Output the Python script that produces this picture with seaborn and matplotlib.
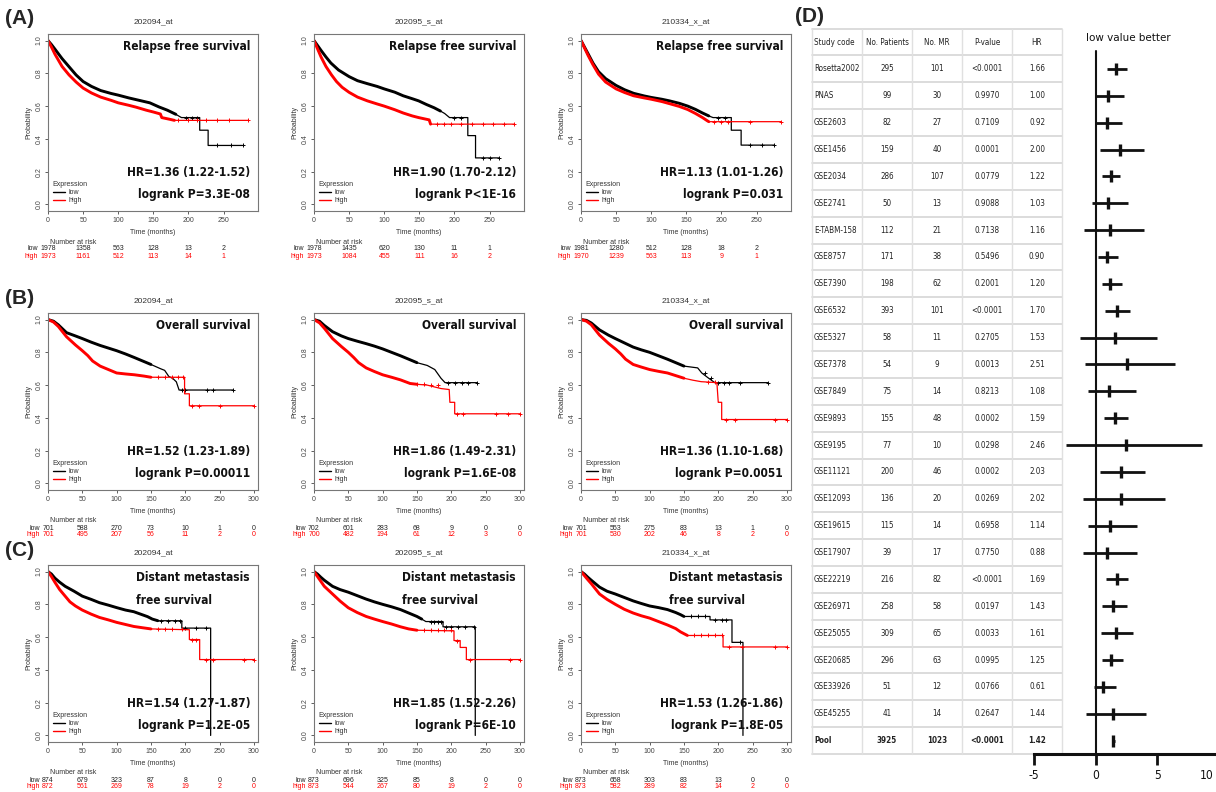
import matplotlib
matplotlib.use("Agg")
import numpy as np
import pandas as pd
import matplotlib.pyplot as plt
import seaborn as sns
from matplotlib import font_manager, transforms
from matplotlib.font_manager import FontProperties
from matplotlib.lines import Line2D

# ---------------- DATA ----------------
probe_titles = ["202094_at", "202095_s_at", "210334_x_at"]
endpoints = ["Relapse free survival", "Overall survival", "Distant metastasis\nfree survival"]

# Row A : relapse free survival  (time, survival)
rfs_202094_low = [(0,1.0),(5,0.975),(10,0.947),(20,0.89),(30,0.84),(40,0.79),(50,0.75),(62,0.72),(75,0.695),(90,0.677),(100,0.667),(115,0.65),(130,0.635),(145,0.62),(158,0.595),(170,0.575),(182,0.55),(190,0.53),(216,0.53),(216,0.453),(228,0.453),(228,0.36),(277,0.36)]
rfs_202094_high = [(0,1.0),(5,0.96),(10,0.916),(20,0.842),(30,0.79),(40,0.747),(50,0.71),(62,0.68),(75,0.655),(90,0.635),(100,0.62),(115,0.605),(125,0.594),(140,0.575),(150,0.564),(160,0.552),(162,0.53),(175,0.518),(180,0.513),(285,0.513)]
rfs_202094_low_cens = [196, 205, 212, 240, 260, 277]
rfs_202094_high_cens = [185, 200, 212, 225, 240, 258, 285]

rfs_202095_low = [(0,1.0),(5,0.97),(10,0.94),(17,0.9),(24,0.863),(35,0.82),(50,0.78),(62,0.755),(76,0.737),(90,0.72),(100,0.705),(115,0.685),(127,0.663),(140,0.645),(149,0.632),(160,0.61),(171,0.59),(180,0.57),(186,0.555),(193,0.53),(219,0.53),(219,0.42),(230,0.42),(230,0.284),(263,0.284)]
rfs_202095_high = [(0,1.0),(5,0.95),(10,0.9),(17,0.842),(25,0.79),(32,0.75),(40,0.715),(50,0.684),(62,0.655),(76,0.632),(90,0.613),(100,0.6),(115,0.578),(127,0.558),(140,0.54),(149,0.53),(164,0.516),(166,0.49),(285,0.49)]
rfs_202095_low_cens = [200, 210, 240, 250, 263]
rfs_202095_high_cens = [175, 185, 195, 210, 225, 240, 255, 270, 285]

rfs_210334_low = [(0,1.0),(5,0.96),(10,0.92),(17,0.863),(25,0.81),(35,0.768),(50,0.726),(62,0.70),(75,0.678),(90,0.662),(100,0.653),(115,0.642),(126,0.632),(140,0.617),(152,0.6),(163,0.58),(173,0.558),(182,0.54),(188,0.53),(214,0.53),(214,0.453),(228,0.453),(228,0.362),(275,0.362)]
rfs_210334_high = [(0,1.0),(5,0.955),(10,0.91),(17,0.853),(25,0.795),(35,0.747),(50,0.705),(62,0.683),(75,0.663),(90,0.65),(100,0.642),(115,0.628),(126,0.615),(140,0.598),(152,0.579),(163,0.555),(173,0.53),(180,0.51),(182,0.505),(285,0.505)]
rfs_210334_low_cens = [195, 205, 240, 258, 275]
rfs_210334_high_cens = [190, 200, 210, 240, 285]

# Row B : overall survival
os_202094_low = [(0,1.0),(8,0.99),(15,0.968),(27,0.92),(40,0.9),(50,0.884),(63,0.862),(76,0.842),(88,0.826),(100,0.81),(113,0.79),(126,0.768),(138,0.747),(150,0.726),(164,0.70),(170,0.69),(176,0.653),(182,0.64),(187,0.62),(191,0.57),(270,0.57)]
os_202094_high = [(0,1.0),(8,0.985),(15,0.958),(27,0.895),(40,0.845),(50,0.81),(58,0.78),(65,0.747),(76,0.716),(88,0.695),(100,0.674),(113,0.668),(126,0.663),(140,0.655),(150,0.648),(199,0.648),(199,0.547),(206,0.547),(206,0.474),(300,0.474)]
os_202094_low_cens = [195, 200, 232, 240, 270]
os_202094_high_cens = [160, 170, 180, 190, 197, 210, 220, 250, 300]

os_202095_low = [(0,1.0),(8,0.99),(15,0.964),(27,0.926),(40,0.9),(50,0.884),(63,0.868),(76,0.853),(88,0.838),(100,0.821),(113,0.8),(126,0.779),(138,0.758),(150,0.737),(165,0.72),(176,0.695),(185,0.642),(191,0.615),(238,0.615)]
os_202095_high = [(0,1.0),(8,0.98),(15,0.947),(27,0.884),(40,0.835),(50,0.8),(58,0.768),(65,0.737),(76,0.705),(88,0.683),(100,0.663),(113,0.648),(126,0.632),(140,0.61),(150,0.605),(165,0.6),(185,0.579),(197,0.573),(198,0.495),(205,0.495),(205,0.425),(300,0.425)]
os_202095_low_cens = [195, 205, 215, 225, 238]
os_202095_high_cens = [150, 160, 170, 180, 209, 217, 265, 283, 300]

os_210334_low = [(0,1.0),(8,0.995),(15,0.979),(27,0.937),(40,0.905),(50,0.884),(63,0.858),(76,0.832),(88,0.815),(100,0.8),(113,0.779),(126,0.758),(138,0.737),(150,0.716),(170,0.705),(176,0.674),(186,0.642),(195,0.615),(272,0.615)]
os_210334_high = [(0,1.0),(8,0.99),(15,0.968),(27,0.905),(40,0.855),(50,0.821),(58,0.79),(65,0.758),(76,0.726),(88,0.71),(100,0.695),(113,0.684),(126,0.674),(138,0.658),(150,0.642),(163,0.63),(175,0.621),(198,0.615),(200,0.495),(205,0.495),(205,0.39),(300,0.39)]
os_210334_low_cens = [180, 190, 200, 208, 215, 232, 272]
os_210334_high_cens = [185, 195, 212, 225, 283, 300]

# Row C : distant metastasis free survival
dmfs_202094_low = [(0,1.0),(5,0.985),(10,0.96),(17,0.935),(25,0.91),(38,0.88),(50,0.85),(63,0.83),(75,0.81),(88,0.795),(100,0.78),(113,0.765),(125,0.755),(135,0.74),(145,0.725),(152,0.71),(160,0.70),(195,0.70),(195,0.655),(237,0.655),(237,0.0)]
dmfs_202094_high = [(0,1.0),(5,0.97),(10,0.935),(17,0.89),(25,0.85),(32,0.815),(40,0.79),(50,0.765),(63,0.74),(75,0.72),(88,0.705),(100,0.69),(113,0.677),(125,0.665),(138,0.657),(150,0.65),(206,0.645),(206,0.585),(221,0.585),(221,0.463),(300,0.463)]
dmfs_202094_low_cens = [165, 175, 185, 193, 200, 215, 230]
dmfs_202094_high_cens = [160, 170, 180, 195, 210, 215, 230, 240, 285, 300]

dmfs_202095_low = [(0,1.0),(5,0.985),(10,0.965),(15,0.947),(27,0.91),(38,0.89),(50,0.874),(63,0.853),(76,0.832),(88,0.815),(100,0.8),(113,0.785),(126,0.768),(138,0.747),(150,0.726),(157,0.71),(163,0.695),(188,0.695),(188,0.663),(235,0.663),(235,0.0)]
dmfs_202095_high = [(0,1.0),(5,0.97),(10,0.94),(15,0.91),(27,0.863),(38,0.82),(50,0.779),(63,0.75),(76,0.726),(88,0.71),(100,0.695),(113,0.68),(126,0.663),(138,0.65),(150,0.642),(204,0.638),(204,0.579),(213,0.579),(213,0.537),(222,0.537),(222,0.463),(300,0.463)]
dmfs_202095_low_cens = [170, 175, 180, 185, 193, 200, 210, 220, 233]
dmfs_202095_high_cens = [160, 170, 180, 190, 200, 208, 228, 285, 300]

dmfs_210334_low = [(0,1.0),(5,0.985),(10,0.965),(15,0.947),(27,0.905),(38,0.88),(50,0.863),(63,0.842),(76,0.821),(88,0.805),(100,0.79),(113,0.78),(126,0.768),(138,0.75),(145,0.737),(150,0.726),(188,0.726),(188,0.705),(220,0.705),(220,0.568),(236,0.568),(236,0.0)]
dmfs_210334_high = [(0,1.0),(5,0.975),(10,0.95),(15,0.926),(27,0.863),(38,0.83),(50,0.8),(63,0.77),(76,0.747),(88,0.73),(100,0.716),(113,0.695),(126,0.674),(138,0.652),(145,0.632),(155,0.61),(207,0.61),(207,0.54),(300,0.54)]
dmfs_210334_low_cens = [160, 170, 180, 195, 205, 212, 232]
dmfs_210334_high_cens = [165, 175, 185, 195, 205, 215, 235, 283, 300]

hr_labels = [["HR=1.36 (1.22-1.52)", "HR=1.90 (1.70-2.12)", "HR=1.13 (1.01-1.26)"],
             ["HR=1.52 (1.23-1.89)", "HR=1.86 (1.49-2.31)", "HR=1.36 (1.10-1.68)"],
             ["HR=1.54 (1.27-1.87)", "HR=1.85 (1.52-2.26)", "HR=1.53 (1.26-1.86)"]]
p_labels = [["logrank P=3.3E-08", "logrank P<1E-16", "logrank P=0.031"],
            ["logrank P=0.00011", "logrank P=1.6E-08", "logrank P=0.0051"],
            ["logrank P=1.2E-05", "logrank P=6E-10", "logrank P=1.8E-05"]]

risk_times_rfs = [0, 50, 100, 150, 200, 250]
risk_times_os = [0, 50, 100, 150, 200, 250, 300]
nar_rfs_202094 = ([1978, 1358, 563, 128, 13, 2], [1973, 1161, 512, 113, 14, 1])
nar_rfs_202095 = ([1978, 1435, 620, 130, 11, 1], [1973, 1084, 455, 111, 16, 2])
nar_rfs_210334 = ([1981, 1280, 512, 128, 18, 2], [1970, 1239, 563, 113, 9, 1])
nar_os_202094 = ([701, 588, 270, 73, 10, 1, 0], [701, 495, 207, 56, 11, 2, 0])
nar_os_202095 = ([702, 601, 283, 68, 9, 0, 0], [700, 482, 194, 61, 12, 3, 0])
nar_os_210334 = ([701, 553, 275, 83, 13, 1, 0], [701, 530, 202, 46, 8, 2, 0])
nar_dmfs_202094 = ([874, 679, 323, 87, 8, 0, 0], [872, 561, 269, 78, 19, 2, 0])
nar_dmfs_202095 = ([873, 696, 325, 85, 8, 0, 0], [873, 544, 267, 80, 19, 2, 0])
nar_dmfs_210334 = ([873, 658, 303, 83, 13, 0, 0], [873, 582, 289, 82, 14, 2, 0])

# Panel D : meta-analysis table + forest
study = ["Rosetta2002", "PNAS", "GSE2603", "GSE1456", "GSE2034", "GSE2741", "E-TABM-158", "GSE8757",
         "GSE7390", "GSE6532", "GSE5327", "GSE7378", "GSE7849", "GSE9893", "GSE9195", "GSE11121",
         "GSE12093", "GSE19615", "GSE17907", "GSE22219", "GSE26971", "GSE25055", "GSE20685",
         "GSE33926", "GSE45255", "Pool"]
n_patients = [295, 99, 82, 159, 286, 50, 112, 171, 198, 393, 58, 54, 75, 155, 77, 200, 136, 115, 39, 216, 258, 309, 296, 51, 41, 3925]
n_mr = [101, 30, 27, 40, 107, 13, 21, 38, 62, 101, 11, 9, 14, 48, 10, 46, 20, 14, 17, 82, 58, 65, 63, 12, 14, 1023]
p_value = ["<0.0001", "0.9970", "0.7109", "0.0001", "0.0779", "0.9088", "0.7138", "0.5496", "0.2001",
           "<0.0001", "0.2705", "0.0013", "0.8213", "0.0002", "0.0298", "0.0002", "0.0269", "0.6958",
           "0.7750", "<0.0001", "0.0197", "0.0033", "0.0995", "0.0766", "0.2647", "<0.0001"]
hr = [1.66, 1.00, 0.92, 2.00, 1.22, 1.03, 1.16, 0.90, 1.20, 1.70, 1.53, 2.51, 1.08, 1.59, 2.46, 2.03,
      2.02, 1.14, 0.88, 1.69, 1.43, 1.61, 1.25, 0.61, 1.44, 1.42]
ci_low = [0.93, -0.05, -0.05, 0.35, 0.53, -0.32, -0.98, 0.21, 0.48, 0.74, -1.24, -0.84, -0.66, 0.69,
          -2.43, 0.32, -1.06, -0.66, -1.06, 0.82, 0.48, 0.42, 0.53, -0.10, -0.76, 1.30]
ci_high = [2.50, 2.33, 2.12, 3.89, 1.98, 2.65, 3.89, 1.80, 2.12, 2.78, 4.98, 6.43, 3.26, 2.60, 8.60,
           4.02, 5.64, 3.39, 3.39, 2.65, 2.57, 2.99, 2.20, 1.62, 4.05, 1.60]
table_header = ["Study code", "No. Patients", "No. MR", "P-value", "HR"]
forest_ticks = [-5, 0, 5, 10]

# ---------------- STYLE ----------------
sns.set_style("white")
names = {f.name for f in font_manager.fontManager.ttflist}
REG = "Liberation Sans" if "Liberation Sans" in names else "DejaVu Sans"
plt.rcParams["font.family"] = [REG, "DejaVu Sans"]
RED = "#FF0000"

# look for a condensed / narrow face (falls back to the regular family)
STRETCH = {"ultra-condensed": 100, "extra-condensed": 200, "condensed": 300,
           "semi-condensed": 400, "normal": 500, "semi-expanded": 600, "expanded": 700}


def _wnum(w):
    if isinstance(w, str):
        return {"normal": 400, "regular": 400, "book": 400, "medium": 500, "semibold": 600,
                "demibold": 600, "bold": 700, "light": 300}.get(w.lower(), 400)
    return int(w)


cands = {}
for f in font_manager.fontManager.ttflist:
    st = STRETCH.get(f.stretch, 500) if isinstance(f.stretch, str) else int(f.stretch)
    nm = f.name
    if "Narrow" in nm or "Condensed" in nm:
        if "Extra" in nm or "Ultra" in nm:
            st = 200
        elif "Semi" in nm:
            st = 400
        elif st == 500:
            st = 300
    if st < 500 and f.style == "normal" and "CJK" not in nm and "Mono" not in nm:
        cands.setdefault((nm, st), {})[_wnum(f.weight)] = f.fname

best = None
for key, d in cands.items():
    if 400 in d and 700 in d:
        score = (0 if "Liberation" in key[0] else 1, abs(key[1] - 300))
        if best is None or score < best[0]:
            best = (score, key)
if best is not None:
    d = cands[best[1]]
    NAR_REG = FontProperties(fname=d[400])
    NAR_BOLD = FontProperties(fname=d[700])
else:
    NAR_REG = FontProperties(family=REG)
    NAR_BOLD = FontProperties(family=REG, weight="bold")

W, H = 1216, 792
fig = plt.figure(figsize=(W / 100, H / 100), dpi=100)
renderer = fig.canvas.get_renderer()


def sized(prop, size):
    p = prop.copy()
    p.set_size(size)
    return p


def fit_size(s, prop, target_px, max_size):
    p = sized(prop, 10)
    t = fig.text(0, 0, s, fontproperties=p)
    w = t.get_window_extent(renderer).width
    t.remove()
    return min(max_size, 10 * target_px / w)


KM_BIG = sized(NAR_BOLD, fit_size("HR=1.36 (1.22-1.52)", NAR_BOLD, 124, 12))
TAB = sized(NAR_REG, fit_size("Rosetta2002", NAR_REG, 46, 11))
TAB_B = sized(NAR_BOLD, TAB.get_size())
LVB = sized(NAR_REG, fit_size("low value better", NAR_REG, 84, 13))
FTICK = sized(NAR_REG, min(12, LVB.get_size() * 1.05))


def px_axes(x0, y0, w, h):
    return fig.add_axes([x0 / W, 1 - (y0 + h) / H, w / W, h / H])


over = px_axes(0, 0, W, H)
over.set_xlim(0, W)
over.set_ylim(H, 0)
over.axis("off")


def surv_at(pts, t):
    s = pts[0][1]
    for tt, ss in pts:
        if tt <= t:
            s = ss
        else:
            break
    return s


def draw_curve(ax, pts, cens, color, thick_until):
    df = pd.DataFrame(pts, columns=["t", "s"])
    sns.lineplot(data=df, x="t", y="s", ax=ax, color=color, lw=0.9, sort=False, estimator=None)
    body = df[df.t <= thick_until]
    sns.lineplot(data=body, x="t", y="s", ax=ax, color=color, lw=2.1, sort=False, estimator=None)
    cy = [surv_at(pts, c) for c in cens]
    ax.plot(cens, cy, ls="none", marker="+", ms=3.5, mew=0.7, color=color)


curves = [
    [(rfs_202094_low, rfs_202094_high, rfs_202094_low_cens, rfs_202094_high_cens, nar_rfs_202094),
     (rfs_202095_low, rfs_202095_high, rfs_202095_low_cens, rfs_202095_high_cens, nar_rfs_202095),
     (rfs_210334_low, rfs_210334_high, rfs_210334_low_cens, rfs_210334_high_cens, nar_rfs_210334)],
    [(os_202094_low, os_202094_high, os_202094_low_cens, os_202094_high_cens, nar_os_202094),
     (os_202095_low, os_202095_high, os_202095_low_cens, os_202095_high_cens, nar_os_202095),
     (os_210334_low, os_210334_high, os_210334_low_cens, os_210334_high_cens, nar_os_210334)],
    [(dmfs_202094_low, dmfs_202094_high, dmfs_202094_low_cens, dmfs_202094_high_cens, nar_dmfs_202094),
     (dmfs_202095_low, dmfs_202095_high, dmfs_202095_low_cens, dmfs_202095_high_cens, nar_dmfs_202095),
     (dmfs_210334_low, dmfs_210334_high, dmfs_210334_low_cens, dmfs_210334_high_cens, nar_dmfs_210334)],
]

col_left = [48, 314, 581]
row_top = [34, 313, 565]
PW, PH = 210, 177
xmaxs = [299, 306, 306]
thick = [185, 160, 160]
risk_times = [risk_times_rfs, risk_times_os, risk_times_os]
letters = ["(A)", "(B)", "(C)"]

for r in range(3):
    over.text(5, row_top[r] - 15, letters[r], fontsize=15, fontweight="bold", ha="left", va="center")
    for c in range(3):
        low, high, lc, hc, nar = curves[r][c]
        ax = px_axes(col_left[c], row_top[r], PW, PH)
        draw_curve(ax, low, lc, "black", thick[r])
        draw_curve(ax, high, hc, RED, thick[r])
        ax.set_xlim(0, xmaxs[r])
        ax.set_ylim(-0.04, 1.04)
        ax.set_xticks(risk_times[r])
        ax.set_xticklabels([str(t) for t in risk_times[r]])
        ax.set_yticks([0, 0.2, 0.4, 0.6, 0.8, 1.0])
        ax.set_yticklabels(["0.0", "0.2", "0.4", "0.6", "0.8", "1.0"], rotation=90, va="center")
        ax.tick_params(direction="out", length=2.5, width=0.6, labelsize=5, pad=1.5,
                       colors="#444444", bottom=True, left=True)
        for sp in ax.spines.values():
            sp.set_color("#777777")
            sp.set_linewidth(0.8)
        ax.set_xlabel("Time (months)", fontsize=5, labelpad=4, color="#333333")
        ax.set_ylabel("Probability", fontsize=5, labelpad=2, color="#333333")
        ax.set_title(probe_titles[c], fontsize=6, pad=8, color="#333333")
        if r < 2:
            ax.text(0.962, 0.932, endpoints[r], transform=ax.transAxes, ha="right", va="center",
                    fontproperties=KM_BIG, color="#111111")
        else:
            ax.text(0.42, 0.93, "Distant metastasis", transform=ax.transAxes, ha="left", va="center",
                    fontproperties=KM_BIG, color="#111111")
            ax.text(0.42, 0.80, "free survival", transform=ax.transAxes, ha="left", va="center",
                    fontproperties=KM_BIG, color="#111111")
        ax.text(0.962, 0.215, hr_labels[r][c], transform=ax.transAxes, ha="right", va="center",
                fontproperties=KM_BIG, color="#111111")
        ax.text(0.962, 0.095, p_labels[r][c], transform=ax.transAxes, ha="right", va="center",
                fontproperties=KM_BIG, color="#111111")
        handles = [Line2D([], [], color="black", lw=1.0), Line2D([], [], color=RED, lw=1.0)]
        leg = ax.legend(handles, ["low", "high"], title="Expression", loc="lower left",
                        bbox_to_anchor=(0.0, 0.01), fontsize=5, title_fontsize=5, frameon=False,
                        handlelength=1.8, handletextpad=0.5, labelspacing=0.15, borderpad=0.2,
                        alignment="left")
        for t in leg.get_texts():
            t.set_color("#333333")
        leg.get_title().set_color("#333333")
        # numbers at risk
        trans = transforms.blended_transform_factory(ax.transData, ax.transAxes)
        ax.text(risk_times[r][1] * 0.72, -31 / PH, "Number at risk", transform=trans,
                ha="center", va="center", fontsize=5, color="#333333", clip_on=False)
        for k, (vals, col, lab) in enumerate([(nar[0], "#222222", "low"), (nar[1], RED, "high")]):
            yy = -(38 + 7 * k) / PH
            for t, v in zip(risk_times[r], vals):
                ax.text(t, yy, str(v), transform=trans, ha="center", va="center",
                        fontsize=5, color=col, clip_on=False)
            off = len(str(vals[0])) * 1.45 + 1.5
            tr2 = transforms.offset_copy(trans, fig=fig, x=-off, y=0, units="points")
            ax.text(0, yy, lab, transform=tr2, ha="right", va="center", fontsize=5,
                    color=col, clip_on=False)

# ---------------- PANEL D ----------------
over.text(795, 17, "(D)", fontsize=15, fontweight="bold", ha="left", va="center")
tab_top = 28.6
pitch = 26.87
col_edges = [812, 862, 912, 962, 1012, 1062]
nrows = len(study) + 1
tab_bot = tab_top + nrows * pitch
for k in range(nrows + 1):
    over.plot([col_edges[0], col_edges[-1]], [tab_top + k * pitch] * 2, color="#d6d6d6", lw=1.2)
for x in col_edges:
    over.plot([x, x], [tab_top, tab_bot], color="#e0e0e0", lw=1.0)

rows_txt = [table_header] + [[s, str(a), str(b), p, f"{h:.2f}"]
                             for s, a, b, p, h in zip(study, n_patients, n_mr, p_value, hr)]
for k, row in enumerate(rows_txt):
    yc = tab_top + (k + 0.5) * pitch
    prop = TAB_B if row[0] == "Pool" else TAB
    for j, txt in enumerate(row):
        if j == 0:
            over.text(col_edges[0] + 2, yc, txt, ha="left", va="center", fontproperties=prop,
                      color="#222222")
        else:
            over.text((col_edges[j] + col_edges[j + 1]) / 2, yc, txt, ha="center", va="center",
                      fontproperties=prop, color="#222222")

over.text(1086, 38, "low value better", ha="left", va="center", fontproperties=LVB, color="#111111")

fx0, fx1 = 1034, 1219
axf = px_axes(fx0, tab_top, fx1 - fx0, tab_bot - tab_top)
axf.patch.set_alpha(0)
axf.set_xlim(-5, 10)
axf.set_ylim(len(study) - 0.5, -1.5)
idx = np.arange(len(study))
axf.hlines(idx, ci_low, ci_high, color="#111111", lw=2.0)
axf.plot(hr, idx, ls="none", marker="|", ms=8, mew=2.4, color="#111111")
axf.plot([0, 0], [-0.65, len(study) - 0.5], color="#111111", lw=1.5)
for s in ["top", "left", "right"]:
    axf.spines[s].set_visible(False)
axf.spines["bottom"].set_linewidth(2.2)
axf.spines["bottom"].set_color("#111111")
axf.set_yticks([])
axf.set_xticks(forest_ticks)
axf.set_xticklabels([str(t) for t in forest_ticks[:-1]] + [""], fontproperties=FTICK)
axf.tick_params(axis="x", direction="out", length=8, width=2.0, pad=3,
                colors="#111111", bottom=True)
# last tick label sits on the figure edge: right-align it so it stays inside
ftrans = transforms.blended_transform_factory(axf.transData, axf.transAxes)
ftrans = transforms.offset_copy(ftrans, fig=fig, x=-4, y=-11, units="points")
axf.text(forest_ticks[-1], 0, str(forest_ticks[-1]), transform=ftrans, ha="right", va="top",
         fontproperties=FTICK, color="#111111", clip_on=False)

fig.savefig("out.png", dpi=100)
